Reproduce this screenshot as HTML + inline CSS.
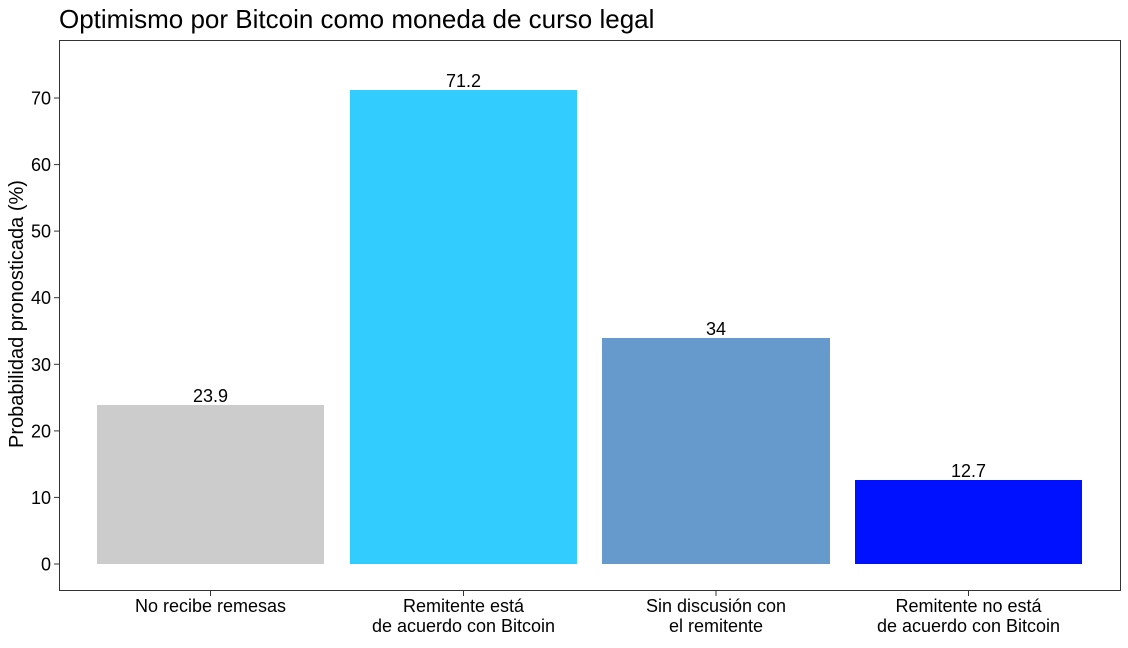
<!DOCTYPE html>
<html><head><meta charset="utf-8"><style>
body{margin:0;background:#fff;}
svg text{font-family:"Liberation Sans",Arial,sans-serif;}
</style></head><body>
<svg width="1128" height="643" viewBox="0 0 1128 643" xmlns="http://www.w3.org/2000/svg">
<rect width="1128" height="643" fill="#fff"/>
<text x="59" y="28" font-size="26" fill="#000">Optimismo por Bitcoin como moneda de curso legal</text>
<rect x="59.5" y="40.5" width="1061" height="550" fill="none" stroke="#333" stroke-width="1"/>
<g fill="none" stroke="#333">
<line x1="54" x2="59" y1="564" y2="564"/>
<line x1="54" x2="59" y1="497.4" y2="497.4"/>
<line x1="54" x2="59" y1="430.9" y2="430.9"/>
<line x1="54" x2="59" y1="364.3" y2="364.3"/>
<line x1="54" x2="59" y1="297.7" y2="297.7"/>
<line x1="54" x2="59" y1="231.1" y2="231.1"/>
<line x1="54" x2="59" y1="164.6" y2="164.6"/>
<line x1="54" x2="59" y1="98" y2="98"/>
<line x1="210.5" x2="210.5" y1="591" y2="596"/>
<line x1="463.5" x2="463.5" y1="591" y2="596"/>
<line x1="716" x2="716" y1="591" y2="596"/>
<line x1="968.5" x2="968.5" y1="591" y2="596"/>
</g>
<g font-size="18" fill="#000" text-anchor="end">
<text x="51" y="570.5">0</text>
<text x="51" y="503.9">10</text>
<text x="51" y="437.4">20</text>
<text x="51" y="370.8">30</text>
<text x="51" y="304.2">40</text>
<text x="51" y="237.6">50</text>
<text x="51" y="171.1">60</text>
<text x="51" y="104.5">70</text>
</g>
<text transform="translate(23,314) rotate(-90)" font-size="20" text-anchor="middle" fill="#000">Probabilidad pronosticada (%)</text>
<rect x="97" y="405" width="227" height="159" fill="#cccccc"/>
<rect x="350" y="90" width="227" height="474" fill="#33ccff"/>
<rect x="602" y="338" width="228" height="226" fill="#6699cc"/>
<rect x="855" y="480" width="227" height="84" fill="#0011ff"/>
<g font-size="18" fill="#000" text-anchor="middle">
<text x="210.5" y="402">23.9</text>
<text x="463.5" y="87">71.2</text>
<text x="716" y="335">34</text>
<text x="968.5" y="477">12.7</text>
</g>
<g font-size="18" fill="#000" text-anchor="middle">
<text x="210.5" y="612">No recibe remesas</text>
<text x="463.5" y="612">Remitente está</text>
<text x="463.5" y="632">de acuerdo con Bitcoin</text>
<text x="716" y="612">Sin discusión con</text>
<text x="716" y="632">el remitente</text>
<text x="968.5" y="612">Remitente no está</text>
<text x="968.5" y="632">de acuerdo con Bitcoin</text>
</g>
</svg>
</body></html>
